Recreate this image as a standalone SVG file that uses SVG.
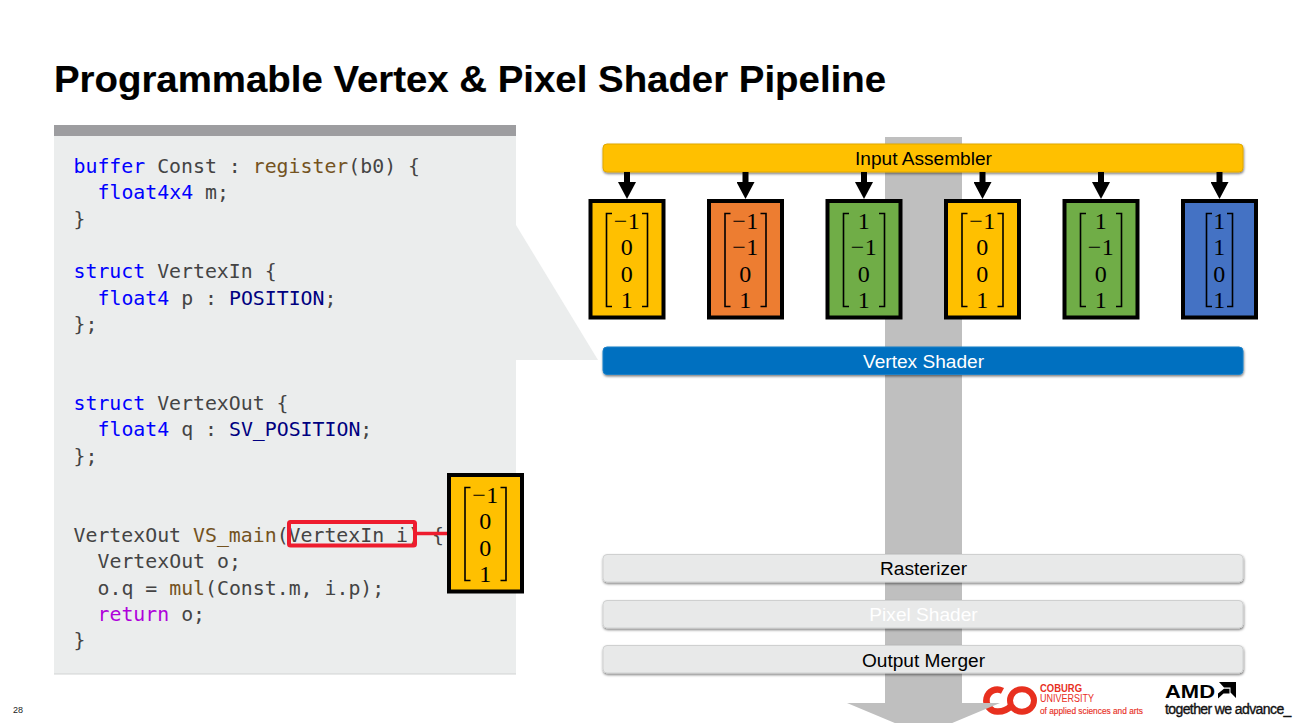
<svg xmlns="http://www.w3.org/2000/svg" width="1300" height="723" viewBox="0 0 1300 723">
<style>
text{font-family:"Liberation Sans",Arial,sans-serif}
.title{font-size:36px;font-weight:700;fill:#000;stroke:#000;stroke-width:.15}
.code{font-family:"DejaVu Sans Mono",monospace;font-size:19.85px;fill:#444}
.k{fill:#0000ff}.b{fill:#74531f}.n{fill:#000080}.r{fill:#af00db}
.bar{stroke-width:1;filter:url(#sh)}
.gb{fill:#e8e9e9;stroke:#cfd0d0}
.lab{font-size:19.1px;text-anchor:middle;fill:#000}
.box{stroke:#000;stroke-width:4}
.brk{fill:none;stroke:#000;stroke-width:1.6}
.m{font-family:"Liberation Serif",serif;font-size:24px;letter-spacing:.6px;text-anchor:middle;fill:#000}
.conn{stroke:#000;stroke-width:6;fill:none;marker-end:url(#ah)}
.lo{fill:#e8301f}
</style>
<defs>
<filter id="sh" x="-2%" y="-20%" width="104%" height="150%"><feDropShadow dx="0.5" dy="1.5" stdDeviation="0.8" flood-color="#000" flood-opacity="0.5"/></filter>
<marker id="ah" markerUnits="userSpaceOnUse" markerWidth="18" markerHeight="18" refX="0" refY="9" orient="auto"><path d="M0 0L17 9L0 18Z" fill="#000"/></marker>
<path id="bw" class="brk" d="M-15 14.5H-20.5V107.5H-15M15 14.5H20.5V107.5H15"/>
<path id="bn" class="brk" d="M-7.5 14.5H-13V107.5H-7.5M7.5 14.5H13V107.5H7.5"/>
</defs>
<rect width="1300" height="723" fill="#fff"/>
<text class="title" x="54" y="92" textLength="832" lengthAdjust="spacingAndGlyphs">Programmable Vertex &amp; Pixel Shader Pipeline</text>

<g id="code-panel">
<rect x="54" y="125" width="462" height="549" fill="#ebeded"/>
<rect x="54" y="673.500" width="462" height="1" fill="#d2d3d3"/>
<polygon points="516,225 598,360 516,360" fill="#ebeded"/>
<rect x="54" y="125" width="462" height="11" fill="#9d9da0"/>
<text class="code" x="73.500" y="173"><tspan class="k">buffer</tspan> Const : <tspan class="b">register</tspan>(b0) {</text>
<text class="code" x="97.500" y="199"><tspan class="k">float4x4</tspan> m;</text>
<text class="code" x="73.500" y="226">}</text>
<text class="code" x="73.500" y="278"><tspan class="k">struct</tspan> VertexIn {</text>
<text class="code" x="97.500" y="305"><tspan class="k">float4</tspan> p : <tspan class="n">POSITION</tspan>;</text>
<text class="code" x="73.500" y="331">};</text>
<text class="code" x="73.500" y="410"><tspan class="k">struct</tspan> VertexOut {</text>
<text class="code" x="97.500" y="436"><tspan class="k">float4</tspan> q : <tspan class="n">SV_POSITION</tspan>;</text>
<text class="code" x="73.500" y="463">};</text>
<text class="code" x="73.500" y="542">VertexOut <tspan class="b">VS_main</tspan>(VertexIn i) {</text>
<text class="code" x="97.500" y="568">VertexOut o;</text>
<text class="code" x="97.500" y="595">o.q = <tspan class="b">mul</tspan>(Const.m, i.p);</text>
<text class="code" x="97.500" y="621"><tspan class="r">return</tspan> o;</text>
<text class="code" x="73.500" y="647">}</text>
</g>

<g id="logo-coburg">
<path d="M1002.500 690.800A11 11 0 1 0 998 711.500Q1006 711.500 1011 706" fill="none" stroke="#e8301f" stroke-width="6.500"/>
<ellipse cx="1022" cy="700.500" rx="12" ry="11.300" fill="none" stroke="#e8301f" stroke-width="6"/>
<text class="lo" x="1040" y="692" font-size="10" font-weight="700" textLength="42" lengthAdjust="spacingAndGlyphs">COBURG</text>
<text class="lo" x="1040" y="702.300" font-size="10" textLength="54" lengthAdjust="spacingAndGlyphs">UNIVERSITY</text>
<text class="lo" x="1040" y="713.500" font-size="8.200" stroke="#e8301f" stroke-width=".15" textLength="103" lengthAdjust="spacingAndGlyphs">of applied sciences and arts</text>
</g>

<g id="pipeline-arrow">
<polygon points="885,137 962,137 962,703 1000,703 923.5,735 847,703 885,703" fill="#bfbfbf"/>
</g>

<g id="input-assembler">
<rect class="bar" x="603" y="144" width="640" height="28" rx="4" fill="#ffc000" stroke="#e0a800"/>
<text class="lab" x="923.5" y="164.500">Input Assembler</text>
</g>
<g id="vertex-shader">
<rect class="bar" x="603" y="347" width="640" height="27.500" rx="4" fill="#0070c0" stroke="#1a80c8"/>
<text class="lab" x="923.5" y="367.500" style="fill:#fff">Vertex Shader</text>
</g>
<g id="rasterizer">
<rect class="bar gb" x="603" y="554.500" width="640" height="27.500" rx="4"/>
<text class="lab" x="923.5" y="574.500">Rasterizer</text>
</g>
<g id="pixel-shader">
<rect class="bar gb" x="603" y="600.500" width="640" height="27.500" rx="4"/>
<text class="lab" x="923.5" y="620.500" style="fill:#fff">Pixel Shader</text>
</g>
<g id="output-merger">
<rect class="bar gb" x="603" y="645.500" width="640" height="27.500" rx="4"/>
<text class="lab" x="923.5" y="666.500">Output Merger</text>
</g>

<g id="connectors">
<path class="conn" d="M627 172V182"/>
<path class="conn" d="M745.500 172V182"/>
<path class="conn" d="M864 172V182"/>
<path class="conn" d="M982.500 172V182"/>
<path class="conn" d="M1101 172V182"/>
<path class="conn" d="M1219.500 172V182"/>
<path d="M417 533.500H449" stroke="#ee1c2e" stroke-width="3.500" fill="none"/>
</g>

<g id="v1" transform="translate(627,199)">
<rect class="box" x="-36.500" y="2" width="73" height="116.500" fill="#ffc000"/><use href="#bw"/>
<text class="m" y="30">−1</text><text class="m" y="56">0</text><text class="m" y="83">0</text><text class="m" y="109">1</text>
</g>
<g id="v2" transform="translate(745.500,199)">
<rect class="box" x="-36.500" y="2" width="73" height="116.500" fill="#ed7d31"/><use href="#bw"/>
<text class="m" y="30">−1</text><text class="m" y="56">−1</text><text class="m" y="83">0</text><text class="m" y="109">1</text>
</g>
<g id="v3" transform="translate(864,199)">
<rect class="box" x="-36.500" y="2" width="73" height="116.500" fill="#70ad47"/><use href="#bw"/>
<text class="m" y="30">1</text><text class="m" y="56">−1</text><text class="m" y="83">0</text><text class="m" y="109">1</text>
</g>
<g id="v4" transform="translate(982.500,199)">
<rect class="box" x="-36.500" y="2" width="73" height="116.500" fill="#ffc000"/><use href="#bw"/>
<text class="m" y="30">−1</text><text class="m" y="56">0</text><text class="m" y="83">0</text><text class="m" y="109">1</text>
</g>
<g id="v5" transform="translate(1101,199)">
<rect class="box" x="-36.500" y="2" width="73" height="116.500" fill="#70ad47"/><use href="#bw"/>
<text class="m" y="30">1</text><text class="m" y="56">−1</text><text class="m" y="83">0</text><text class="m" y="109">1</text>
</g>
<g id="v6" transform="translate(1219.500,199)">
<rect class="box" x="-36.500" y="2" width="73" height="116.500" fill="#4472c4"/><use href="#bn"/>
<text class="m" y="30">1</text><text class="m" y="56">1</text><text class="m" y="83">0</text><text class="m" y="109">1</text>
</g>

<g id="param-highlight">
<rect x="289" y="522" width="126" height="23.500" rx="1.500" fill="none" stroke="#ee1c2e" stroke-width="4"/>
</g>
<g id="v-input" transform="translate(485.500,473)">
<rect class="box" x="-36.500" y="2" width="73" height="116.500" fill="#ffc000"/><use href="#bw"/>
<text class="m" y="30">−1</text><text class="m" y="56">0</text><text class="m" y="83">0</text><text class="m" y="109">1</text>
</g>

<g id="logo-amd">
<text x="1165" y="697.500" font-size="19" font-weight="700" fill="#000" textLength="50" lengthAdjust="spacingAndGlyphs">AMD</text>
<path d="M1219 682H1236V698L1230.500 692.500V687.500H1224ZM1218 693.500L1224 688.800H1229.500V693.500H1223.500L1218 698.500Z" fill="#000"/>
<text x="1165" y="713.500" font-size="14" fill="#111" stroke="#111" stroke-width=".35" style="letter-spacing:-.6px">together we advance_</text>
</g>
<text x="13" y="713" font-size="9" fill="#222">28</text>
</svg>
